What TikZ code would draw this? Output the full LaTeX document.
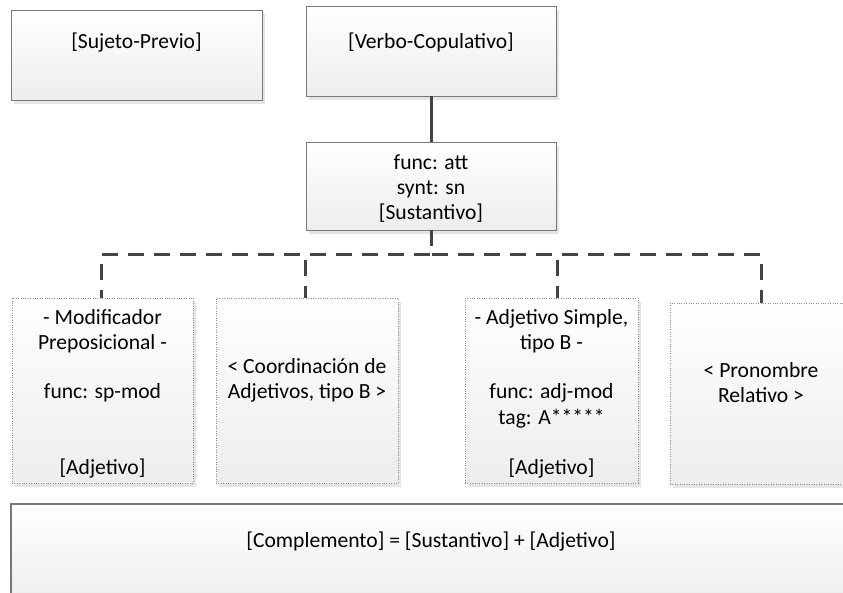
\documentclass[tikz,border=0pt]{standalone}
\usepackage{fontspec}
\setmainfont{Carlito}
\usetikzlibrary{shadows}

\definecolor{edgegray}{RGB}{120,120,120}
\definecolor{dotgray}{RGB}{140,140,140}
\definecolor{linkgray}{RGB}{68,68,68}

% text block of fixed size: height, width, top padding, lines
\newcommand{\bxtext}[4]{%
  \parbox[c][#1][t]{#2}{\centering\fontsize{21.6}{25}\selectfont\vspace*{#3}\strut#4\par}}

\tikzset{
  solidbox/.style={draw=edgegray, line width=0.9pt, top color=white,
    bottom color=black!7, inner sep=0pt, outer sep=0pt,
    general shadow={shadow xshift=3pt, shadow yshift=-4pt, fill=black!10}},
  dotbox/.style={solidbox, draw=dotgray, line width=0.7pt,
    dash pattern=on 0.8pt off 1.6pt},
  link/.style={draw=linkgray, line width=3pt},
  linkdash/.style={link, dash pattern=on 16pt off 10pt}
}

\begin{document}
\begin{tikzpicture}[x=1pt, y=-1pt]
\useasboundingbox (0,0) rectangle (843,593);
\clip (0,0) rectangle (843,593);

% upper boxes
\node[solidbox] (suj) at (136.5,55)
  {\bxtext{90pt}{251pt}{21.5pt}{[Sujeto-Previo]}};
\node[solidbox] (verbo) at (431,51)
  {\bxtext{90pt}{250pt}{25.5pt}{[Verbo-Copulativo]}};
\node[solidbox] (att) at (431,186)
  {\bxtext{88pt}{250pt}{10.5pt}{func: att\\ synt: sn\\ {[}Sustantivo]}};

% dependent boxes
\node[dotbox] (b1) at (102.5,390.5)
  {\bxtext{185pt}{181pt}{8.5pt}{- Modificador\\ Preposicional -\\[25pt] func: sp-mod\\[50pt] {[}Adjetivo]}};
\node[dotbox] (b2) at (307,390.5)
  {\bxtext{185pt}{182pt}{57.5pt}{< Coordinación de\\ Adjetivos, tipo B >}};
\node[dotbox] (b3) at (551.5,390.5)
  {\bxtext{185pt}{173pt}{8.5pt}{- Adjetivo Simple,\\ tipo B -\\[25pt] func: adj-mod\\ tag: A*****\\[25pt] {[}Adjetivo]}};
\node[dotbox] (b4) at (761,393.5)
  {\bxtext{181pt}{182pt}{56.5pt}{< Pronombre\\ Relativo >}};

% bottom box
\node[solidbox, line width=1.2pt] (comp) at (431,554)
  {\bxtext{100pt}{840pt}{25.5pt}{[Complemento] = [Sustantivo] + [Adjetivo]}};

% connectors
\draw[link] (verbo.south) -- (att.north);
\draw[linkdash] (att.south) -- ++(0,25) -| ([xshift=-1.5pt]b1.north);
\draw[linkdash] (att.south) -- ++(0,25) -| ([xshift=-2pt]b2.north);
\draw[linkdash] (att.south) -- ++(0,25) -| ([xshift=5.5pt]b3.north);
\draw[linkdash] (att.south) -- ++(0,25) -| (b4.north);
\end{tikzpicture}
\end{document}
